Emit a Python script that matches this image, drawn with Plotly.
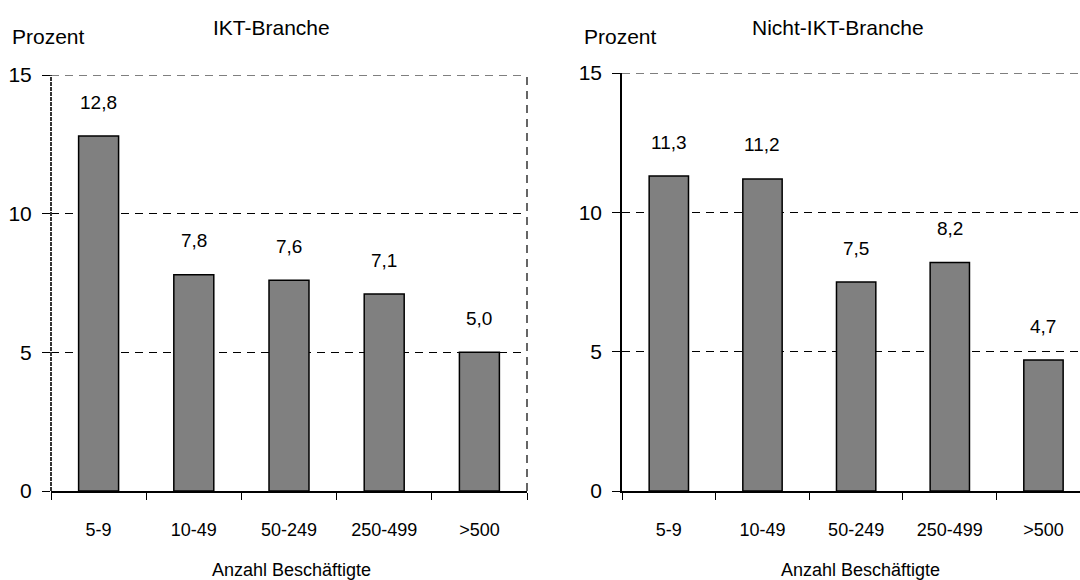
import plotly.graph_objects as go

# Firm size classes and shares (percent) per sector
size_classes = ["5-9", "10-49", "50-249", "250-499", ">500"]
ikt_values = [12.8, 7.8, 7.6, 7.1, 5.0]
nicht_ikt_values = [11.3, 11.2, 7.5, 8.2, 4.7]

panel_titles = ["IKT-Branche", "Nicht-IKT-Branche"]
y_label = "Prozent"
x_label = "Anzahl Beschäftigte"
y_ticks = [0, 5, 10, 15]
y_max = 15

FONT = "Liberation Sans, Arial, sans-serif"
W, H = 1080, 580
DASH = "8px,6px"


def de(v):
    return f"{v:.1f}".replace(".", ",")


fig = go.Figure()

bar_style = dict(
    marker=dict(color="#808080", line=dict(color="black", width=1.5)),
    width=0.42,
    showlegend=False,
    hoverinfo="skip",
)
fig.add_trace(go.Bar(x=size_classes, y=ikt_values, xaxis="x", yaxis="y", **bar_style))
fig.add_trace(go.Bar(x=size_classes, y=nicht_ikt_values, xaxis="x2", yaxis="y2", **bar_style))

# value labels above the bars
for vals, xr, yr in [(ikt_values, "x", "y"), (nicht_ikt_values, "x2", "y2")]:
    for c, v in zip(size_classes, vals):
        fig.add_annotation(
            x=c, y=v, xref=xr, yref=yr, text=de(v), showarrow=False,
            yanchor="middle", yshift=34,
            font=dict(family=FONT, size=19, color="black"),
        )

x_common = dict(
    type="category", automargin=False,
    showline=True, linecolor="black", linewidth=1.5,
    ticks="outside", tickson="boundaries", ticklen=7, tickcolor="black", tickwidth=1,
    tickfont=dict(family=FONT, size=18, color="black"),
    ticklabelstandoff=22,
    showgrid=False, zeroline=False, fixedrange=True,
)
y_common = dict(
    range=[0, y_max], tickvals=y_ticks, automargin=False,
    ticks="outside", ticklen=8, tickcolor="black", tickwidth=1,
    tickfont=dict(family=FONT, size=21, color="black"),
    ticklabelstandoff=6,
    showgrid=True, gridcolor="black", gridwidth=1, griddash=DASH,
    zeroline=False, fixedrange=True,
)

y_dom_left = [(H - 491) / H, (H - 75) / H]
y_dom_right = [(H - 491) / H, (H - 73) / H]

fig.update_layout(
    width=W, height=H, autosize=False,
    margin=dict(l=0, r=0, t=0, b=0, pad=0, autoexpand=False),
    paper_bgcolor="white", plot_bgcolor="white",
    font=dict(family=FONT, color="black"),
    xaxis=dict(domain=[51 / W, 527 / W], range=[-0.5, 4.5], anchor="y", **x_common),
    yaxis=dict(domain=y_dom_left, anchor="x", showline=False, **y_common),
    xaxis2=dict(domain=[622 / W, 1.0], range=[-0.5, 4.39], anchor="y2", **x_common),
    yaxis2=dict(domain=y_dom_right, anchor="x2", showline=True, linecolor="black",
                linewidth=1.5, **y_common),
)

# top dashed gridline of both panels
for xr, yr in [("x domain", "y"), ("x2 domain", "y2")]:
    fig.add_shape(type="line", xref=xr, yref=yr, x0=0, x1=1, y0=y_max, y1=y_max,
                  line=dict(color="black", width=1.2, dash=DASH), layer="above")

# left panel frame: fine-dashed left edge, dashed right edge
fig.add_shape(type="line", xref="x domain", yref="y", x0=0, x1=0, y0=0, y1=y_max,
              line=dict(color="#333333", width=2, dash="4px,1px"), layer="above")
fig.add_shape(type="line", xref="x domain", yref="y", x0=1, x1=1, y0=0, y1=y_max,
              line=dict(color="black", width=1.2, dash=DASH), layer="above")

# panel titles, axis titles
txt = dict(showarrow=False, xref="paper", yref="paper", xanchor="center", yanchor="middle")
fig.add_annotation(x=271 / W, y=1 - 28 / H, text=panel_titles[0],
                   font=dict(family=FONT, size=21, color="black"), **txt)
fig.add_annotation(x=838 / W, y=1 - 28 / H, text=panel_titles[1],
                   font=dict(family=FONT, size=21, color="black"), **txt)
fig.add_annotation(x=48 / W, y=1 - 36 / H, text=y_label,
                   font=dict(family=FONT, size=21, color="black"), **txt)
fig.add_annotation(x=620 / W, y=1 - 36 / H, text=y_label,
                   font=dict(family=FONT, size=21, color="black"), **txt)
fig.add_annotation(x=291 / W, y=1 - 570 / H, text=x_label,
                   font=dict(family=FONT, size=18, color="black"), **txt)
fig.add_annotation(x=860 / W, y=1 - 570 / H, text=x_label,
                   font=dict(family=FONT, size=18, color="black"), **txt)

fig.write_html("out.html")
